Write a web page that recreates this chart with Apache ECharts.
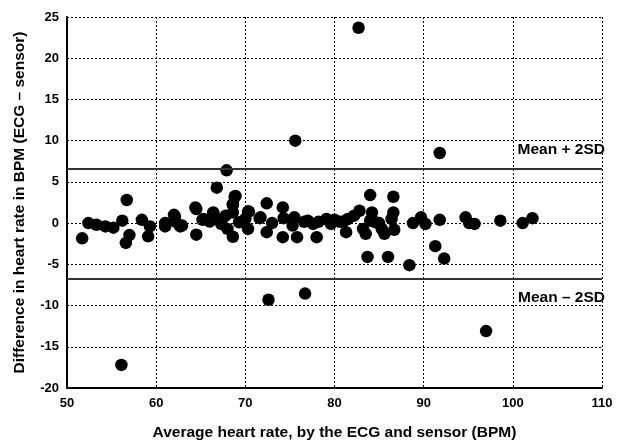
<!DOCTYPE html>
<html>
<head>
<meta charset="utf-8">
<script src="https://cdn.jsdelivr.net/npm/echarts@6/dist/echarts.min.js"></script>
<style>
  html, body { margin: 0; padding: 0; background: #fff; }
  #chart { width: 620px; height: 441px; }
</style>
</head>
<body>
<div id="chart"></div>
<script>
// Bland–Altman plot: average of ECG and sensor heart rate vs. their difference
const avgHeartRate = [
  82.7, 75.6, 91.8, 67.9, 66.8, 56.7, 68.9, 84.0, 86.6, 72.4,
  64.4, 74.2, 68.6, 70.4, 66.4, 51.7, 52.4, 53.3, 54.3, 55.2,
  56.2, 57.0, 56.6, 58.4, 59.1, 59.3, 61.0, 62.0, 62.2, 62.9,
  64.5, 65.3, 66.0, 66.8, 67.3, 68.0, 68.6, 68.6, 69.3, 70.0,
  70.3, 71.7, 72.4, 74.2, 74.3, 75.5, 75.8, 75.3, 76.6, 77.6,
  78.0, 78.2, 79.1, 79.6, 80.6, 81.3, 81.5, 82.2, 82.8, 83.2,
  83.5, 83.7, 84.2, 84.6, 85.3, 85.6, 86.0, 86.4, 86.6, 86.7,
  88.4, 88.8, 89.7, 90.2, 91.8, 91.3, 92.3, 94.7, 95.1, 95.7,
  98.6, 101.1, 102.2, 72.6, 76.7, 97.0, 56.1, 68.8, 68.6, 64.5,
  62.1, 61.0, 62.7, 66.4, 70.3, 71.6, 65.2, 67.3, 73.0, 77.0,
  80.0, 81.0, 84.0, 85.0, 69.8, 67.8
];
const diffHeartRate = [
  23.7, 10.0, 8.5, 6.4, 4.3, 2.8, 3.3, 3.4, 3.2, 2.4,
  1.9, 1.9, 2.3, 1.4, 1.3, -1.85, 0.0, -0.2, -0.4, -0.55,
  0.3, -1.45, -2.4, 0.4, -1.6, -0.4, 0.0, 1.0, 0.15, -0.3,
  -1.4, 0.5, 0.2, 0.5, -0.1, -0.7, -1.65, 1.3, 0.1, 0.5,
  -0.7, 0.7, -1.1, -1.7, 0.6, 0.7, -1.7, -0.3, 0.15, -0.1,
  -1.7, 0.15, 0.5, -0.1, 0.15, -1.1, 0.5, 0.9, 1.5, -0.7,
  -1.3, -4.1, 1.3, 0.1, -0.7, -1.3, -4.1, 0.5, 1.3, -0.8,
  -5.1, 0.0, 0.7, -0.1, 0.4, -2.8, -4.3, 0.7, 0.0, -0.1,
  0.3, 0.0, 0.6, -9.3, -8.55, -13.1, -17.2, 3.2, 2.2, 1.7,
  0.8, -0.4, -0.4, 1.2, 1.4, 0.6, 0.4, 0.2, 0.0, 0.3,
  0.4, 0.2, 0.3, 0.0, 0.2, 0.9
];
const upperLimit = 6.6;   // mean + 2SD
const lowerLimit = -6.8;  // mean - 2SD
const limitLabels = ['Mean + 2SD', 'Mean \u2013 2SD'];

const xTitle = 'Average heart rate, by the ECG and sensor (BPM)';
const yTitle = 'Difference in heart rate in BPM (ECG \u2013 sensor)';

const points = avgHeartRate.map((x, i) => [x, diffHeartRate[i]]);

const tickFont = { fontFamily: 'Liberation Sans', fontWeight: 'bold', fontSize: 13, color: '#000' };
const titleFont = { fontFamily: 'Liberation Sans', fontWeight: 'bold', fontSize: 15.5, color: '#000' };

const chart = echarts.init(document.getElementById('chart'));
chart.setOption({
  animation: false,
  backgroundColor: '#fff',
  grid: { left: 67, right: 18, top: 17, bottom: 53, outerBoundsMode: 'none' },
  xAxis: {
    type: 'value', min: 50, max: 110, interval: 10,
    name: xTitle, nameLocation: 'middle', nameGap: 37,
    nameTextStyle: Object.assign({}, titleFont),
    axisLine: { show: true, onZero: false, lineStyle: { color: '#000', width: 2 } },
    axisTick: { show: false },
    axisLabel: Object.assign({ margin: 9 }, tickFont),
    splitLine: { show: true, lineStyle: { color: '#000', width: 1, type: [2, 2] } }
  },
  yAxis: {
    type: 'value', min: -20, max: 25, interval: 5,
    name: yTitle, nameLocation: 'middle', nameGap: 39, nameRotate: 90,
    nameTextStyle: Object.assign({}, titleFont),
    axisLine: { show: true, onZero: false, lineStyle: { color: '#000', width: 2 } },
    axisTick: { show: false },
    axisLabel: Object.assign({ margin: 8 }, tickFont),
    splitLine: { show: true, lineStyle: { color: '#000', width: 1, type: [2, 2] } }
  },
  series: [{
    type: 'scatter',
    data: points,
    symbol: 'circle',
    symbolSize: 12.5,
    itemStyle: { color: '#000', opacity: 1 },
    markLine: {
      silent: true,
      symbol: 'none',
      lineStyle: { color: '#333', width: 2, type: 'solid' },
      label: Object.assign({ position: 'insideEndTop', distance: [-3, 11] }, titleFont),
      data: [
        { yAxis: upperLimit, label: { formatter: limitLabels[0], position: 'insideEndTop' } },
        { yAxis: lowerLimit, label: { formatter: limitLabels[1], position: 'insideEndBottom' } }
      ]
    }
  }]
});
</script>
</body>
</html>
